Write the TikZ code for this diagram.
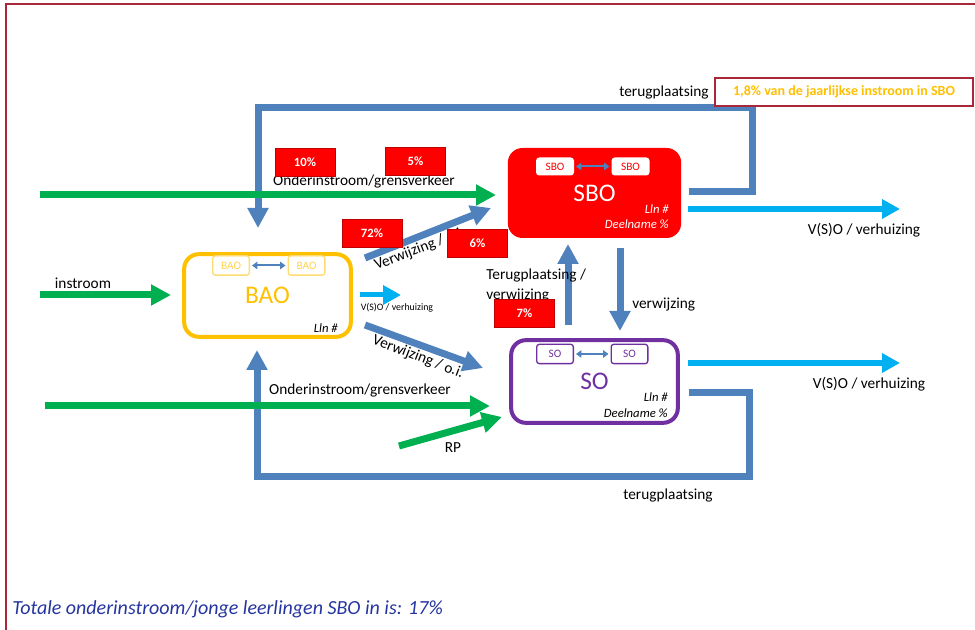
\documentclass[tikz,border=0pt]{standalone}
\usepackage{fontspec}
\setmainfont{Carlito}
\usepackage{tikz}
\usetikzlibrary{arrows.meta}

\definecolor{flowgreen}{HTML}{00B050}
\definecolor{flowblue}{HTML}{4F81BD}
\definecolor{flowcyan}{HTML}{00B0F0}
\definecolor{baoorange}{HTML}{FFC000}
\definecolor{sopurple}{HTML}{7030A0}
\definecolor{framered}{HTML}{A8283A}
\definecolor{notenavy}{HTML}{2535A0}

\tikzset{
  flow/.style={line width=5.25pt, -{Triangle[length=15pt,width=15pt]}},
  green flow/.style={flow, flowgreen},
  blue flow/.style={flow, flowblue, line join=miter},
  cyan flow/.style={flow, flowcyan, line width=4.5pt, -{Triangle[length=13.5pt,width=14pt]}},
  schoolbox/.style={rounded corners=11pt, minimum width=125pt, minimum height=62pt,
    line width=3pt, inner sep=0pt, font=\fontsize{19}{22}\selectfont},
  tagbox/.style={rounded corners=2pt, minimum width=27.5pt, minimum height=14.5pt,
    inner sep=0pt, line width=1pt, font=\fontsize{8.5}{10}\selectfont},
  tagarrow/.style={flowblue, line width=1.5pt, shorten <=1.5pt, shorten >=1.5pt,
    {Triangle[length=4pt,width=5.5pt]}-{Triangle[length=4pt,width=5.5pt]}},
  pct/.style={fill=red, draw=red!75!black, line width=0.4pt, minimum width=45pt,
    minimum height=21pt, inner sep=0pt, text=white, font=\fontsize{9.5}{11}\selectfont\bfseries},
  lbl/.style={font=\fontsize{11.5}{15}\selectfont, inner sep=0pt},
  lln/.style={font=\fontsize{9.5}{11}\selectfont\itshape, inner sep=0pt, anchor=east}
}

\begin{document}
\begin{tikzpicture}[x=0.75pt, y=-0.75pt]
\useasboundingbox (0,0) rectangle (975,630);

% page frame
\draw[framered, line width=1pt] (6,630) -- (6,4) -- (975,4);

% terugplaatsing loops
\coordinate (fb1-a) at (689,192); \coordinate (fb1-c) at (752,108); \coordinate (fb1-b) at (258,228);
\coordinate (fb2-a) at (689,393); \coordinate (fb2-c) at (749,477); \coordinate (fb2-b) at (257,350);
\draw[blue flow] (fb1-a) -| (fb1-c) -| (fb1-b);
\draw[blue flow] (fb2-a) -| (fb2-c) -| (fb2-b);

% school types
\node[schoolbox, draw=baoorange, text=baoorange] (bao) at (267.5,295.5) {BAO};
\node[schoolbox, fill=red, text=white, minimum width=130pt, minimum height=67.5pt] (sbo) at (594.5,193) {SBO};
\node[schoolbox, draw=sopurple, text=sopurple] (so) at (594.5,381.5) {SO};

% small tags inside the boxes
\node[tagbox, draw=baoorange!55, text=baoorange!70] (bao-l) at (231,265.5) {BAO};
\node[tagbox, draw=baoorange!55, text=baoorange!70] (bao-r) at (306.5,265.5) {BAO};
\node[tagbox, fill=white, draw=white, text=red, minimum height=12.5pt] (sbo-l) at (555,166.5) {SBO};
\node[tagbox, fill=white, draw=white, text=red, minimum height=12.5pt] (sbo-r) at (630.5,166.5) {SBO};
\node[tagbox, draw=sopurple, text=sopurple] (so-l) at (555,354) {SO};
\node[tagbox, draw=sopurple, text=sopurple] (so-r) at (629.5,354) {SO};
\draw[tagarrow] (bao-l) -- (bao-r);
\draw[tagarrow] (sbo-l) -- (sbo-r);
\draw[tagarrow] (so-l) -- (so-r);

\node[lln] (bao-lln) at (338,328) {Lln \#};
\node[lln, text=white] (sbo-lln) at (669,209) {Lln \#};
\node[lln, text=white] (sbo-dn) at (669,224) {Deelname \%};
\node[lln] (so-lln) at (668,397) {Lln \#};
\node[lln] (so-dn) at (668,413) {Deelname \%};

% green inflow
\coordinate (instroom-a) at (40,295); \coordinate (instroom-b) at (171,295);
\coordinate (grens1-a) at (40,195);   \coordinate (grens1-b) at (496,195);
\coordinate (grens2-a) at (45,406);   \coordinate (grens2-b) at (490,406);
\coordinate (rp-a) at (399,446);      \coordinate (rp-b) at (502,417);
\draw[green flow] (instroom-a) -- (instroom-b);
\draw[green flow] (grens1-a) -- (grens1-b);
\draw[green flow] (grens2-a) -- (grens2-b);
\draw[green flow] (rp-a) -- (rp-b);

% verwijzingen between the boxes
\coordinate (vw1-a) at (365,258); \coordinate (vw1-b) at (491,208);
\coordinate (vw2-a) at (365,325); \coordinate (vw2-b) at (483,368);
\coordinate (up-a) at (568,325);  \coordinate (up-b) at (568,244);
\coordinate (dn-a) at (620,248);  \coordinate (dn-b) at (620,331);
\draw[blue flow] (vw1-a) -- (vw1-b);
\draw[blue flow] (vw2-a) -- (vw2-b);
\draw[blue flow] (up-a) -- (up-b);
\draw[blue flow] (dn-a) -- (dn-b);

% outflow
\coordinate (out0-a) at (360,295); \coordinate (out0-b) at (401,295);
\coordinate (out1-a) at (688,209); \coordinate (out1-b) at (900,209);
\coordinate (out2-a) at (688,363); \coordinate (out2-b) at (900,363);
\draw[cyan flow, line width=3.75pt] (out0-a) -- (out0-b);
\draw[cyan flow] (out1-a) -- (out1-b);
\draw[cyan flow] (out2-a) -- (out2-b);

% labels
\node[lbl] (l-instroom) at (83,283) {instroom};
\node[lbl] (l-grens1) at (364,181) {Onderinstroom/grensverkeer};
\node[lbl] (l-grens2) at (360,390) {Onderinstroom/grensverkeer};
\node[lbl] (l-rp) at (453,448) {RP};
\node[lbl, rotate=21] (l-vw1) at (420,249) {Verwijzing / o.i.};
\node[lbl, rotate=-21] (l-vw2) at (418,357) {Verwijzing / o.i.};
\node[lbl, align=left, anchor=west] (l-terug) at (486,285) {Terugplaatsing /\\verwijzing};
\node[lbl, anchor=west] (l-verw) at (632,305) {verwijzing};
\node[lbl, font=\fontsize{7.4}{9}\selectfont] (l-out0) at (397,308) {V(S)O / verhuizing};
\node[lbl] (l-out1) at (864,230) {V(S)O / verhuizing};
\node[lbl] (l-out2) at (869,384) {V(S)O / verhuizing};
\node[lbl] (l-fb1) at (664,93) {terugplaatsing};
\node[lbl] (l-fb2) at (668,495) {terugplaatsing};

% percentages
\foreach \x/\y/\p/\n in {305/162/10/p10, 415.5/161/5/p5, 372/233/72/p72, 477.5/243/6/p6, 524.5/313/7/p7}
  \node[pct] (\n) at (\x,\y) {\p\%};

% note on the right
\node[draw=framered, line width=0.8pt, fill=white, minimum width=193.5pt, minimum height=21pt,
  text=baoorange, font=\fontsize{10.5}{12}\selectfont\bfseries] (note) at (844,92)
  {1,8\% van de jaarlijkse instroom in SBO};

% bottom remark
\node[anchor=west, inner sep=0pt, text=notenavy, font=\fontsize{15}{17}\selectfont\itshape] (total)
  at (12,609) {Totale onderinstroom/jonge leerlingen SBO in is: 17\%};
\end{tikzpicture}
\end{document}
